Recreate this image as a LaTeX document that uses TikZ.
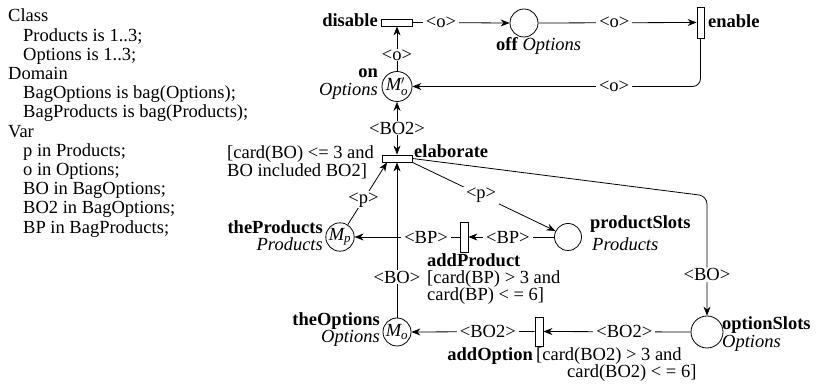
\documentclass[tikz,border=0pt]{standalone}
\usepackage{fontspec}
\setmainfont{Liberation Serif}
\usetikzlibrary{arrows.meta}
\tikzset{
  place/.style={circle,draw,line width=0.8pt,inner sep=0pt},
  trans/.style={rectangle,draw,line width=0.8pt,inner sep=0pt},
  arc/.style={draw,line width=0.8pt,-{Stealth[length=9pt,width=7pt]}},
  arcboth/.style={draw,line width=0.8pt,{Stealth[length=9pt,width=7pt]}-{Stealth[length=9pt,width=7pt]}},
  lbl/.style={fill=white,inner xsep=3pt,inner ysep=1pt},
  txt/.style={inner sep=0pt},
}
\begin{document}
\begin{tikzpicture}[x=1pt,y=-1pt,font=\fontsize{18.5}{19}\selectfont]
\path[fill=white] (0,0) rectangle (820,387);
\useasboundingbox (0,0) rectangle (820,387);

% declarations
\node[txt,anchor=base west] (d1) at (8,22) {Class};
\node[txt,anchor=base west] (d2) at (23,41.2) {Products is 1..3;};
\node[txt,anchor=base west] (d3) at (23,60.4) {Options is 1..3;};
\node[txt,anchor=base west] (d4) at (8,79.6) {Domain};
\node[txt,anchor=base west] (d5) at (23,98.8) {BagOptions is bag(Options);};
\node[txt,anchor=base west] (d6) at (23,118) {BagProducts is bag(Products);};
\node[txt,anchor=base west] (d7) at (8,137.2) {Var};
\node[txt,anchor=base west] (d8) at (23,156.4) {p in Products;};
\node[txt,anchor=base west] (d9) at (23,175.6) {o in Options;};
\node[txt,anchor=base west] (d10) at (23,194.8) {BO in BagOptions;};
\node[txt,anchor=base west] (d11) at (23,214) {BO2 in BagOptions;};
\node[txt,anchor=base west] (d12) at (23,233.2) {BP in BagProducts;};

% places
\node[place,minimum size=30pt] (on) at (397,86.5) {$\mathit{M}'_{\mathit{o}}$};
\node[place,minimum size=28pt] (off) at (524,23) {};
\node[place,minimum size=28pt] (tp) at (340,237) {$\mathit{M}_{\mathit{p}}$};
\node[place,minimum size=27pt] (ps) at (568,237) {};
\node[place,minimum size=28pt] (to) at (397,332) {$\mathit{M}_{\mathit{o}}$};
\node[place,minimum size=32pt] (osl) at (707,332) {};

% transitions
\node[trans,minimum width=31pt,minimum height=7pt] (dis) at (397,22.5) {};
\node[trans,minimum width=7pt,minimum height=31pt] (en) at (700.5,22.5) {};
\node[trans,minimum width=30pt,minimum height=7pt] (elab) at (397,158.5) {};
\node[trans,minimum width=8pt,minimum height=30pt] (ap) at (464,237) {};
\node[trans,minimum width=8pt,minimum height=29pt] (ao) at (539,331.5) {};

% labels
\node[txt,anchor=base east] (ldis) at (378,27) {\textbf{disable}};
\node[txt,anchor=base west] (len) at (708,28) {\textbf{enable}};
\node[txt,anchor=base west] (loff) at (496,51) {\textbf{off} \textit{Options}};
\node[txt,anchor=base east] (lon) at (378,78) {\textbf{on}};
\node[txt,anchor=base east] (lon2) at (378,96) {\textit{Options}};
\node[txt,anchor=base west] (lelab) at (414,158) {\textbf{elaborate}};
\node[txt,anchor=base west] (gelab1) at (227,159) {[card(BO) <= 3 and};
\node[txt,anchor=base west] (gelab2) at (227,177) {BO included BO2]};
\node[txt,anchor=base east] (ltp) at (323,234) {\textbf{theProducts}};
\node[txt,anchor=base east] (ltp2) at (323,251) {\textit{Products}};
\node[txt,anchor=base west] (lap) at (427,267) {\textbf{addProduct}};
\node[txt,anchor=base west] (gap1) at (427,284) {[card(BP) > 3 and};
\node[txt,anchor=base west] (gap2) at (427,301) {card(BP) < = 6]};
\node[txt,anchor=base west] (lps) at (590,229) {\textbf{productSlots}};
\node[txt,anchor=base west] (lps2) at (592,251) {\textit{Products}};
\node[txt,anchor=base east] (lto) at (380,326) {\textbf{theOptions}};
\node[txt,anchor=base east] (lto2) at (380,343) {\textit{Options}};
\node[txt,anchor=base east] (lao) at (533,361) {\textbf{addOption}};
\node[txt,anchor=base west] (gao1) at (536,361) {[card(BO2) > 3 and};
\node[txt,anchor=base west] (gao2) at (567,378) {card(BO2) < = 6]};
\node[txt,anchor=base west] (losl) at (722,330) {\textbf{optionSlots}};
\node[txt,anchor=base west] (losl2) at (722,348) {\textit{Options}};

% arcs
\draw[arc] (on.north) -- node[lbl,pos=0.36]{<o>} (dis.south);
\draw[arc] (dis.east) -- node[lbl,pos=0.29]{<o>} (off.west);
\draw[arc] (off.east) -- node[lbl,pos=0.48]{<o>} (en.west);
\draw[arc,rounded corners=8pt] (en.south) |- node[lbl,pos=0.65]{<o>} (on.east);
\draw[arcboth] (on.south) -- node[lbl,pos=0.5]{<BO2>} (elab.north);
\draw[arc] (tp) -- node[lbl,pos=0.4]{<p>} ([xshift=-10pt]elab.south);
\draw[arc] (to.north) -- node[lbl,pos=0.26]{<BO>} (elab.south);
\draw[arc] (ap.west) -- node[lbl,pos=0.32]{<BP>} (tp.east);
\draw[arc] (ps.west) -- node[lbl,pos=0.54]{<BP>} (ap.east);
\draw[arc] (elab.south east) -- node[lbl,pos=0.48]{<p>} (ps);
\coordinate (bend) at (707,196);
\draw[arc,rounded corners=8pt] (elab.east) -- (bend) -- node[lbl,pos=0.66]{<BO>} (osl.north);
\draw[arc] (osl.west) -- node[lbl,pos=0.45]{<BO2>} (ao.east);
\draw[arc] (ao.west) -- node[lbl,pos=0.38]{<BO2>} (to.east);
\end{tikzpicture}
\end{document}
